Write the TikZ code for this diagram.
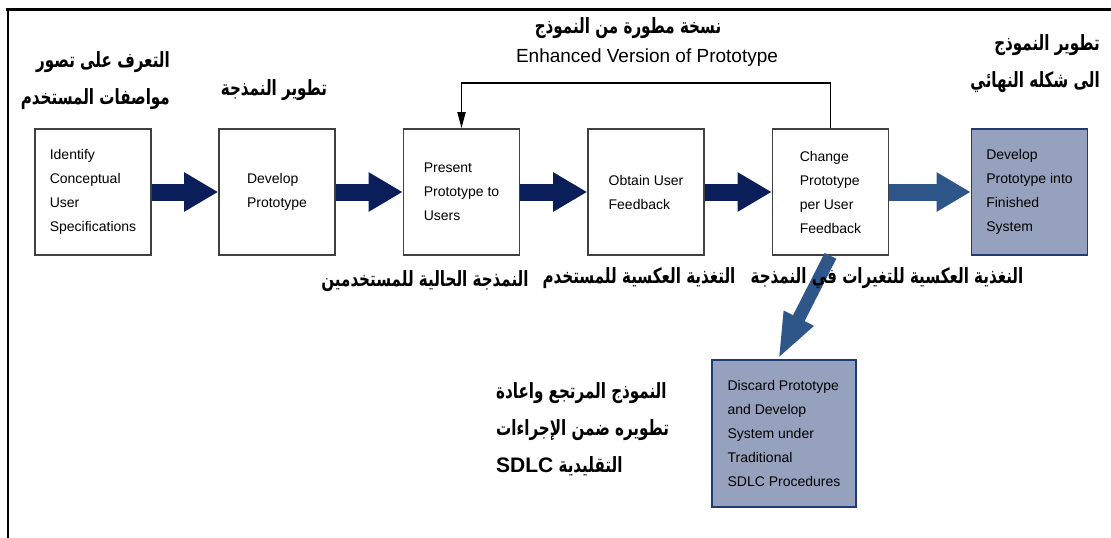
\documentclass[tikz,border=0pt]{standalone}
\usepackage{fontspec}
\setmainfont{Liberation Sans}
\newfontfamily\arabicfont[Script=Arabic, FakeStretch=0.72]{DejaVu Sans}
\TeXXeTstate=1
\usetikzlibrary{arrows.meta}
\definecolor{navyflow}{RGB}{10,30,90}
\definecolor{steelflow}{RGB}{46,86,137}
\definecolor{slatefill}{RGB}{149,161,189}
\definecolor{slateline}{RGB}{31,59,115}
\tikzset{
  stepbox/.style={draw=black!75, line width=1.6pt, fill=white, minimum width=116pt, minimum height=126pt, inner sep=0pt, align=left, font=\fontsize{14}{24}\selectfont},
  finalbox/.style={stepbox, fill=slatefill, draw=slateline},
  flow/.style={line width=17pt, draw=navyflow, -{Triangle[length=34pt,width=37pt]}},
  flowlight/.style={flow, draw=steelflow},
  loopline/.style={line width=1.8pt, -{Triangle[length=16pt,width=8pt]}},
  arlabel/.style={font=\arabicfont\bfseries\fontsize{21}{37}\selectfont, inner sep=0pt}
}

\begin{document}
\begin{tikzpicture}[x=1pt, y=-1pt]
  \useasboundingbox (0,0) rectangle (1111,538);
  \draw[line width=3pt] (6,9) -- (1111,9);
  \draw[line width=2pt] (8,9) -- (8,538);

  % main row of steps
  \node[stepbox] (ident) at (93,192) {Identify\\Conceptual\\User\\Specifications};
  \node[stepbox] (devproto) at (277,192) {Develop\\Prototype};
  \node[stepbox] (present) at (461.5,192) {Present\\Prototype to\\Users};
  \node[stepbox] (feedback) at (646,192) {Obtain User\\Feedback};
  \node[stepbox] (chgproto) at (830.5,192) {Change\\Prototype\\per User\\Feedback};
  \node[finalbox] (finished) at (1029.5,192) {Develop\\Prototype into\\Finished\\System};
  \node[finalbox, minimum width=144pt, minimum height=147pt] (discard) at (784,433.5) {Discard Prototype\\and Develop\\System under\\Traditional\\SDLC Procedures};

  \draw[flow] (ident) -- (devproto);
  \draw[flow] (devproto) -- (present);
  \draw[flow] (present) -- (feedback);
  \draw[flow] (feedback) -- (chgproto);
  \draw[flowlight] (chgproto) -- (finished);
  \draw[flowlight, line width=13pt, -{Triangle[length=46pt,width=30pt]}] (chgproto.south) -- ([xshift=-6pt]discard.north);
  \draw[loopline] (chgproto.north) -- ++(0,-45) -| (present.north);

  % labels
  \node[arlabel, align=right, anchor=east] (specslbl) at (170,81) {\beginR التعرف على تصور\endR\\\beginR مواصفات المستخدم\endR};
  \node[arlabel] (devlbl) at (274,90) {\beginR تطوير النمذجة\endR};
  \node[arlabel] (enhlbl) at (628,28) {\beginR نسخة مطورة من النموذج\endR};
  \node[font=\fontsize{19}{22}\selectfont, inner sep=0pt] (enhtxt) at (647,58) {Enhanced Version of Prototype};
  \node[arlabel, align=right, anchor=east] (finlbl) at (1100,64) {\beginR تطوير النموذج\endR\\\beginR الى شكله النهائي\endR};
  \node[arlabel] (curlbl) at (425,281) {\beginR النمذجة الحالية للمستخدمين\endR};
  \node[arlabel] (fblbl) at (639,278) {\beginR التغذية العكسية للمستخدم\endR};
  \node[arlabel] (chglbl) at (887,278) {\beginR النغذية العكسية للتغيرات في النمذجة\endR};
  \node[arlabel, align=left, anchor=west] (sdlclbl) at (496,429) {\beginR النموذج المرتجع واعادة\endR\\\beginR تطويره ضمن الإجراءات\endR\\\beginR التقليدية \beginL{\rmfamily SDLC}\endL\endR};
\end{tikzpicture}
\end{document}
